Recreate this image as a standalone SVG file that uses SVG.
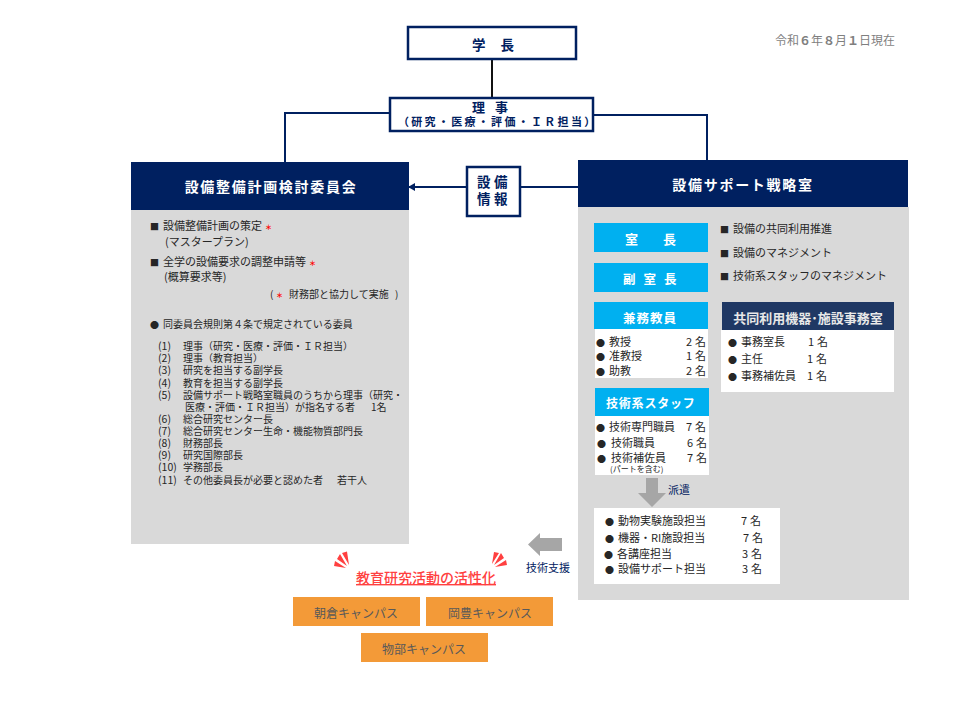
<svg xmlns="http://www.w3.org/2000/svg" width="960" height="720" viewBox="0 0 960 720">
<style>
text{font-family:"Noto Sans CJK JP","Noto Sans",sans-serif;fill:#262626;font-size:11px}
.navy{fill:#002060;font-weight:700}
.w{fill:#fff;font-weight:700;text-anchor:middle}
.h{font-size:14px;letter-spacing:1.700px}
.cyan{fill:#00b0f0}
.gray{fill:#d9d9d9}
.white{fill:#fff}
.box{fill:#fff;stroke:#002060;stroke-width:2.5}
.conn{fill:none;stroke:#002060;stroke-width:2}
.link{fill:none;stroke:#5b9bd5;stroke-width:2.5}
.c{text-anchor:middle}
.camp{fill:#f39a38}
.campt{fill:#595959;font-size:12px;text-anchor:middle}
.red{fill:#ff0000;font-size:7px;font-weight:700}
.l{font-size:10px}
.n{font-size:10.500px}
.b{font-size:9px}
</style>
<defs>
<marker id="ah" markerWidth="8" markerHeight="8" refX="7" refY="4" orient="auto" markerUnits="userSpaceOnUse"><path d="M0,0L7,4L0,8z" fill="#002060"/></marker>
</defs>
<rect width="960" height="720" fill="#fff"/>
<g id="connectors">
<path class="conn" d="M390,113H285V162"/>
<path class="conn" d="M593,115H707V160"/>
<path d="M492,59V98" fill="none" stroke="#111" stroke-width="2"/>
<path class="conn" d="M467,187H408" marker-end="url(#ah)"/>
<path class="conn" d="M578,187H520"/>
<path class="link" d="M651,252V263M651,292V302M653,378V388"/>
</g>
<text x="835" y="45" class="c" style="fill:#7f7f7f;font-size:12px">令和<tspan font-weight="700">６</tspan>年<tspan font-weight="700">８</tspan>月<tspan font-weight="700">１</tspan>日現在</text>
<g id="president"><rect class="box" x="408" y="27" width="168" height="32"/><text x="472" y="50" class="navy" style="font-size:13.500px;letter-spacing:.8px" xml:space="preserve">学　長</text></g>
<g id="director"><rect class="box" x="390" y="98" width="203" height="33"/>
<text x="472" y="112" class="navy" style="font-size:13px;letter-spacing:10px">理事</text>
<text x="398" y="126" class="navy" style="font-size:11px;letter-spacing:2.300px">（研究・医療・評価・ＩＲ担当）</text></g>
<g id="info"><rect class="box" x="467" y="167" width="53" height="49"/>
<text x="477" y="187" class="navy" style="font-size:13.500px;letter-spacing:3.500px">設備</text>
<text x="477" y="204" class="navy" style="font-size:13.500px;letter-spacing:3.500px">情報</text></g>
<g id="committee">
<rect x="131" y="210" width="278" height="334" class="gray"/>
<rect x="131" y="162" width="278" height="48" fill="#002060"/>
<text x="271" y="192" class="w h">設備整備計画検討委員会</text>
<text x="150" y="230" class="b">■</text><text x="163" y="230">設備整備計画の策定<tspan class="red" dx="3">＊</tspan></text>
<text x="165" y="246">(マスタープラン)</text>
<text x="150" y="266" class="b">■</text><text x="163" y="266">全学の設備要求の調整申請等<tspan class="red" dx="3">＊</tspan></text>
<text x="164" y="281">(概算要求等)</text>
<text x="270" y="298" class="l">(</text><text x="276" y="298" class="red">＊</text><text x="289" y="298" class="l">財務部と協力して実施</text><text x="395" y="298" class="l">)</text>
<text x="150" y="328" class="b">●</text><text x="163" y="328" class="l">同委員会規則第４条で規定されている委員</text>
<text x="158" y="350" class="n">(1)</text><text x="183" y="350" class="l">理事（研究・医療・評価・ＩＲ担当）</text>
<text x="158" y="362" class="n">(2)</text><text x="183" y="362" class="l">理事（教育担当）</text>
<text x="158" y="374" class="n">(3)</text><text x="183" y="374" class="l">研究を担当する副学長</text>
<text x="158" y="387" class="n">(4)</text><text x="183" y="387" class="l">教育を担当する副学長</text>
<text x="158" y="399" class="n">(5)</text><text x="183" y="399" class="l">設備サポート戦略室職員のうちから理事（研究・</text>
<text x="185" y="411" class="l">医療・評価・ＩＲ担当）が指名する者</text><text x="371" y="411" class="l">1名</text>
<text x="158" y="423" class="n">(6)</text><text x="183" y="423" class="l">総合研究センター長</text>
<text x="158" y="435" class="n">(7)</text><text x="183" y="435" class="l">総合研究センター生命・機能物質部門長</text>
<text x="158" y="447" class="n">(8)</text><text x="183" y="447" class="l">財務部長</text>
<text x="158" y="459" class="n">(9)</text><text x="183" y="459" class="l">研究国際部長</text>
<text x="158" y="471" class="n">(10)</text><text x="183" y="471" class="l">学務部長</text>
<text x="158" y="484" class="n">(11)</text><text x="183" y="484" class="l">その他委員長が必要と認めた者</text><text x="337" y="484" class="l">若干人</text>
</g>
<g id="strategy-office">
<rect x="578" y="207" width="331" height="393" class="gray"/>
<rect x="578" y="160" width="330" height="47" fill="#002060"/>
<text x="743" y="190" class="w h">設備サポート戦略室</text>
<text x="720" y="233" class="b">■</text><text x="733" y="233">設備の共同利用推進</text>
<text x="720" y="257" class="b">■</text><text x="733" y="257">設備のマネジメント</text>
<text x="720" y="280" class="b">■</text><text x="733" y="280">技術系スタッフのマネジメント</text>
</g>
<g id="head"><rect x="594" y="223" width="114" height="29" class="cyan"/><text x="625" y="244" class="w" style="font-size:13px;text-anchor:start;letter-spacing:25px">室長</text></g>
<g id="deputy"><rect x="594" y="263" width="114" height="29" class="cyan"/><text x="623" y="284" class="w" style="font-size:12.500px;text-anchor:start;letter-spacing:8px">副室長</text></g>
<g id="faculty"><rect x="595" y="329" width="113" height="49" class="white"/><rect x="594" y="302" width="114" height="27" class="cyan"/>
<text x="623" y="323" class="w" style="font-size:12.500px;text-anchor:start;letter-spacing:1px">兼務教員</text>
<text x="596" y="346" class="b">●</text><text x="609" y="346">教授</text><text x="686" y="346">2</text><text x="695" y="346">名</text>
<text x="596" y="360" class="b">●</text><text x="609" y="360">准教授</text><text x="686" y="360">1</text><text x="695" y="360">名</text>
<text x="596" y="375" class="b">●</text><text x="609" y="375">助教</text><text x="686" y="375">2</text><text x="695" y="375">名</text></g>
<g id="tech-staff"><rect x="595" y="416" width="114" height="59" class="white"/><rect x="595" y="388" width="114" height="28" class="cyan"/>
<text x="606" y="408" class="w" style="font-size:12px;text-anchor:start;letter-spacing:.8px">技術系スタッフ</text>
<text x="596" y="431" class="b">●</text><text x="609" y="431">技術専門職員</text><text x="686" y="431">7</text><text x="695" y="431">名</text>
<text x="597" y="447" class="b">●</text><text x="611" y="447">技術職員</text><text x="687" y="447">6</text><text x="696" y="447">名</text>
<text x="597" y="462" class="b">●</text><text x="611" y="462">技術補佐員</text><text x="687" y="462">7</text><text x="696" y="462">名</text>
<text x="610" y="472" style="font-size:8px">(パートを含む)</text></g>
<g id="dispatch-arrow"><path d="M646,478H658V493H666L652,507L638,493H646z" fill="#a6a6a6"/><text x="668" y="494" style="fill:#002060">派遣</text></g>
<g id="dispatch"><rect x="594" y="508" width="186" height="76" class="white"/>
<text x="605" y="525" class="b">●</text><text x="618" y="525">動物実験施設担当</text><text x="741" y="525">7</text><text x="750" y="525">名</text>
<text x="605" y="542" class="b">●</text><text x="618" y="542">機器・RI施設担当</text><text x="743" y="542">7</text><text x="752" y="542">名</text>
<text x="604" y="558" class="b">●</text><text x="617" y="558">各講座担当</text><text x="742" y="558">3</text><text x="751" y="558">名</text>
<text x="605" y="573" class="b">●</text><text x="618" y="573">設備サポート担当</text><text x="742" y="573">3</text><text x="751" y="573">名</text></g>
<g id="shared-office"><rect x="721" y="330" width="173" height="62" class="white"/><rect x="722" y="302" width="172" height="28" fill="#1f3864"/>
<text x="808" y="323" class="w" style="font-size:13px;fill:#e8e8e8">共同利用機器･施設事務室</text>
<text x="728" y="346" class="b">●</text><text x="741" y="346">事務室長</text><text x="808" y="346">1</text><text x="817" y="346">名</text>
<text x="728" y="363" class="b">●</text><text x="741" y="363">主任</text><text x="807" y="363">1</text><text x="816" y="363">名</text>
<text x="728" y="380" class="b">●</text><text x="741" y="380">事務補佐員</text><text x="807" y="380">1</text><text x="816" y="380">名</text></g>
<g id="support-arrow"><path d="M562,538V551H540V556L528,544.500L540,533V538z" fill="#a6a6a6"/><text x="526" y="572" style="fill:#002060">技術支援</text></g>
<g id="activation">
<path d="M334,566L346,568L335,561zM337,559L347,566L340,554zM342,553L349,565L347,551.500z" fill="#ff4040"/>
<path d="M507,565L495,567L506,560zM504,558L494,565L501,553zM499,553L492,564L494,552z" fill="#ff4040"/>
<text x="426" y="583" class="c" style="fill:#ff4040;font-size:14px;font-weight:500;text-decoration:underline">教育研究活動の活性化</text>
</g>
<g id="asakura"><rect x="293" y="597" width="127" height="29" class="camp"/><text x="356" y="618" class="campt">朝倉キャンパス</text></g>
<g id="okoh"><rect x="426" y="597" width="127" height="29" class="camp"/><text x="490" y="618" class="campt">岡豊キャンパス</text></g>
<g id="monobe"><rect x="361" y="633" width="127" height="29" class="camp"/><text x="424" y="654" class="campt">物部キャンパス</text></g>
</svg>
